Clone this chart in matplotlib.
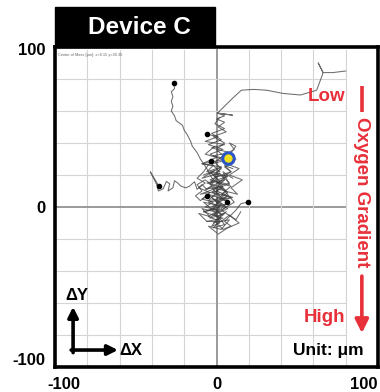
import matplotlib
matplotlib.use("Agg")
import matplotlib.pyplot as plt
from matplotlib.patches import Rectangle
from matplotlib.transforms import ScaledTranslation

plt.rcParams['font.family'] = ['Liberation Sans', 'DejaVu Sans']

# ---------------- data ----------------
tick_values = [-100, 0, 100]
tick_labels = ["-100", "0", "100"]
grid_values = [-80, -60, -40, -20, 0, 20, 40, 60, 80]

track_a_x = [-26.5, -26, -28, -27, -28, -27, -28, -26, -25, -21, -20, -18, -16, -15, -12, -10, -8, -6, -4, -2, -4, 0, -3, 2, -1, 3, 0, 4]
track_a_y = [77.6, 74, 72, 69, 66, 63, 60, 57, 54, 51, 48, 45, 41, 38, 34, 30, 27, 24, 20, 17, 14, 12, 9, 7, 4, 2, -2, -5]

track_b_x = [0, 2, -2, 3, -1, 4, 0, 5, -2, 6, 1, 5, 0, 5, 0.6, 9.9, 0.6, 5, 10, 15.4, 23, 31, 41, 52, 62, 65, 66, 63, 66, 72, 80]
track_b_y = [10, 16, 20, 24, 28, 32, 36, 40, 44, 47, 50, 53, 55, 57, 58.7, 57.4, 58.7, 63, 68, 73, 73.5, 73, 71, 70, 73, 81, 84, 90, 84, 84, 85]

track_c_x = [-35.8, -38, -41, -39, -37, -36, -33, -31, -29, -30, -27, -26, -24, -22, -19, -16.7, -13.6, -12, -9, -6, -3]
track_c_y = [13.2, 17, 22, 18, 14, 10, 11.4, 16, 14.5, 10, 12, 16.4, 15, 13, 12, 13, 15.8, 11, 14, 11, 13]

track_d_x = [-5.6, 1, -7, 5, -3, 8, -2, 6, -9, 3, -4, 7, -6, 4, -2, 9, -5, 2, -8, 1]
track_d_y = [45.4, 44, 41, 39, 37, 34, 32, 30, 27, 25, 21, 19, 15, 12, 9, 6, 3, 0, -3, -6]

track_e_x = [-3.1, -6, -8, -12, -7, -11, -4, -9, -2, -7, 1, -5, 0, -3, 2, 0, 6, 1, 7, 0, 4, -4, 3, 9, 5, 10]
track_e_y = [29, 25, 22, 18, 15, 12, 9, 5, 3, 0, -2, -6, -8, -12, -10, -4, 0, 4, 7, 10, 14, 17, 20, 22, 26, 24]

track_f_x = [-5.6, -10, -13, -9, -12, -7, -3, 0, -4, 2, 5, 1, 6, 2, 7, 3, -1, 2, -2, 5, 1, 6]
track_f_y = [6.9, 4, 7, 10, 14, 17, 14, 18, 22, 21, 17, 13, 10, 6, 3, -1, -4, -9, -13, -11, -6, -3]

track_g_x = [6.2, 3, 7, 2, 8, 4, 9, 5, 10, 6, 11, 8, 12, 9]
track_g_y = [3.2, 6, 9, 12, 15, 19, 22, 25, 28, 33, 36, 40, 38, 34]

track_h_x = [19.8, 15, 12, 8, 5, 9, 4, 0, 3, -2, 1, -3, 2]
track_h_y = [3.2, 2, -2, -6, -9, -12, -14, -10, -5, -1, 3, 6, 9]

track_i_x = [-8, -1, -9, 2, -4, 5, -7, 3, -10, 1, -5, 6, -3, 7, -8, 2, -4, 5, -2, 8, 3, -5, 0]
track_i_y = [20, 23, 18, 21, 15, 17, 11, 13, 8, 10, 4, 6, 0, 2, -3, -1, -7, -4, -10, -8, -14, -12, -16]

track_j_x = [10, 4, 8, 0, 6, -3, 4, -5, 2, -8, -1, -9, -4, -11, -6, 3, 8, 12, 15]
track_j_y = [18, 22, 14, 16, 10, 12, 5, 8, 1, 3, -3, -1, -6, -4, -9, -9, -5, -8, -3]

track_k_x = [-1, -7, 0, -9, -2, -6, 3, -1, 7, 1, 9, 3, 10, 0, 7, -2, 4, -6]
track_k_y = [38, 33, 31, 27, 26, 22, 25, 19, 20, 15, 13, 8, 6, 3, -1, -5, -7, -9]

track_l_x = [2, -3, 5, -4, 4, -5, 3, -3, 5, -1, 2]
track_l_y = [22, 27, 29, 33, 36, 39, 42, 46, 49, 52, 56]

track_m_x = [12, 6, 14, 8, 16, 9, 13, 5, 11, 3, 9, 14, 7, 1]
track_m_y = [30, 27, 24, 20, 17, 12, 8, 10, 3, -2, -6, -10, -13, -17]

start_x = [-26.5, -5.6, -3.1, -35.8, -5.6, 6.2, 19.8]
start_y = [77.6, 45.4, 29.0, 13.2, 6.9, 3.2, 3.2]

com_x = [7.4]
com_y = [30.3]
com_label = "Center of Mass [\u03bcm]: x=8.15 y=30.30"

tracks = [
    (track_a_x, track_a_y),
    (track_b_x, track_b_y),
    (track_c_x, track_c_y),
    (track_d_x, track_d_y),
    (track_e_x, track_e_y),
    (track_f_x, track_f_y),
    (track_g_x, track_g_y),
    (track_h_x, track_h_y),
    (track_i_x, track_i_y),
    (track_j_x, track_j_y),
    (track_k_x, track_k_y),
    (track_l_x, track_l_y),
    (track_m_x, track_m_y),
]

# ---------------- figure ----------------
fig = plt.figure(figsize=(3.8, 3.92), dpi=100)
ax = fig.add_axes([55/380, 1 - 367/392, 323/380, 320/392])
ax.set_xlim(-100, 100)
ax.set_ylim(-100, 100)

# grid
for g in grid_values:
    lw = 1.4 if g == 0 else 0.8
    col = '#9a9a9a' if g == 0 else '#d4d4d4'
    ax.plot([g, g], [-100, 98], color=col, lw=lw, zorder=1)
    ax.plot([-100, 80], [g, g], color=col, lw=lw, zorder=1)

# tracks
for tx, ty in tracks:
    ax.plot(tx, ty, color='#3c3c3c', lw=0.75, alpha=0.75, zorder=2)
ax.scatter(start_x, start_y, s=9, color='black', zorder=3)
ax.scatter(com_x, com_y, s=110, color='#2a56c6', zorder=4, edgecolors='none')
ax.scatter(com_x, com_y, s=36, color='#f2e01c', zorder=5, edgecolors='none')

ax.text(0.01, 0.975, com_label, transform=ax.transAxes, fontsize=2.8,
        color='#666666', va='center', ha='left')

# axes styling
for sp in ax.spines.values():
    sp.set_linewidth(2.6)
    sp.set_color('black')
ax.set_xticks(tick_values)
ax.set_xticklabels(tick_labels)
ax.set_yticks(tick_values)
ax.set_yticklabels(tick_labels)
ax.tick_params(length=0, labelsize=12, pad=7)
for lab in ax.get_xticklabels() + ax.get_yticklabels():
    lab.set_fontweight('bold')
xl = ax.get_xticklabels()
xl[0].set_transform(xl[0].get_transform() + ScaledTranslation(9/100, 0, fig.dpi_scale_trans))
xl[-1].set_transform(xl[-1].get_transform() + ScaledTranslation(-14/100, 0, fig.dpi_scale_trans))
yl = ax.get_yticklabels()
yl[0].set_transform(yl[0].get_transform() + ScaledTranslation(0, 8/100, fig.dpi_scale_trans))
yl[-1].set_transform(yl[-1].get_transform() + ScaledTranslation(0, -2/100, fig.dpi_scale_trans))

# title tab
ax.add_patch(Rectangle((0, 1.0), 160/323, 40/320, transform=ax.transAxes,
                       facecolor='black', edgecolor='black', clip_on=False, zorder=6))
ax.text(84/323, 1 + 19/320, "Device C", transform=ax.transAxes, color='white',
        fontsize=17.5, fontweight='bold', ha='center', va='center', zorder=7)

# oxygen gradient annotation
red = '#e8303a'
ax.text(0.842, 0.844, "Low", transform=ax.transAxes, color=red, fontsize=13.5,
        fontweight='bold', ha='center', va='center', zorder=6)
ax.plot([0.950, 0.950], [0.797, 0.878], transform=ax.transAxes, color=red, lw=2.6,
        solid_capstyle='butt', zorder=6)
ax.text(0.950, 0.547, "Oxygen Gradient", transform=ax.transAxes, color=red,
        fontsize=13.5, fontweight='bold', ha='center', va='center', rotation=270, zorder=6)
ax.annotate("", xy=(0.950, 0.106), xytext=(0.950, 0.284), xycoords='axes fraction',
            arrowprops=dict(arrowstyle='-|>,head_length=0.8,head_width=0.4', color=red,
                            lw=2.6, shrinkA=0, shrinkB=0), zorder=6)
ax.text(0.833, 0.156, "High", transform=ax.transAxes, color=red, fontsize=13.5,
        fontweight='bold', ha='center', va='center', zorder=6)
ax.text(0.955, 0.053, "Unit: \u03bcm", transform=ax.transAxes, color='black', fontsize=12.5,
        fontweight='bold', ha='right', va='center', zorder=6)

# delta axes indicator
ax.annotate("", xy=(0.056, 0.188), xytext=(0.056, 0.045), xycoords='axes fraction',
            arrowprops=dict(arrowstyle='-|>,head_length=0.6,head_width=0.3', color='black',
                            lw=2.6, shrinkA=0, shrinkB=0), zorder=6)
ax.annotate("", xy=(0.195, 0.053), xytext=(0.050, 0.053), xycoords='axes fraction',
            arrowprops=dict(arrowstyle='-|>,head_length=0.6,head_width=0.3', color='black',
                            lw=2.6, shrinkA=0, shrinkB=0), zorder=6)
ax.text(0.068, 0.225, "\u0394Y", transform=ax.transAxes, color='black', fontsize=12,
        fontweight='bold', ha='center', va='center', zorder=6)
ax.text(0.200, 0.053, "\u0394X", transform=ax.transAxes, color='black', fontsize=12,
        fontweight='bold', ha='left', va='center', zorder=6)

fig.savefig("out.png", dpi=100)
